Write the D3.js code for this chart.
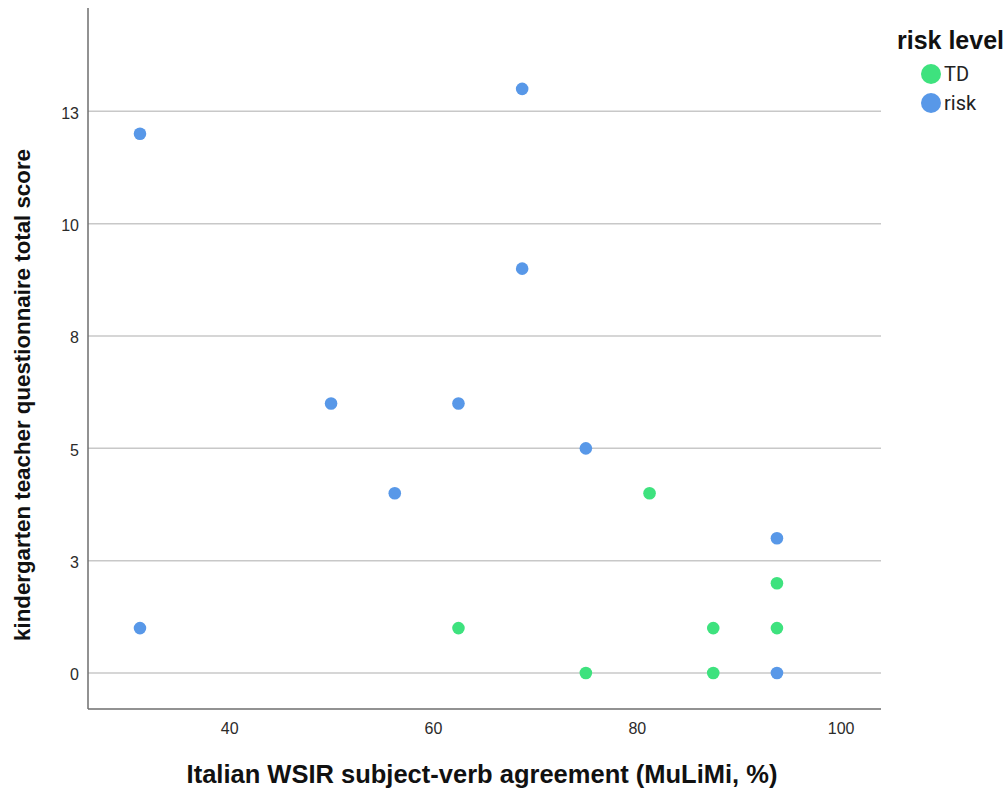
<!DOCTYPE html>
<html>
<head>
<meta charset="utf-8">
<script src="https://cdn.jsdelivr.net/npm/d3@7"></script>
<style>
  body { margin: 0; background: #fff; }
  svg { display: block; font-family: "Liberation Sans", Arial, sans-serif; }
</style>
</head>
<body>
<svg id="chart" width="1008" height="791"></svg>
<script>
// Scatter of teacher questionnaire score vs. subject-verb agreement, by risk level
const groups = ["TD", "risk"];
const groupColors = ["#3ee27e", "#5898e8"];

const tdX = [81.25, 93.75, 93.75, 87.5, 62.5, 75, 87.5];
const tdY = [4, 2, 1, 1, 1, 0, 0];

const riskX = [31.25, 68.75, 68.75, 50, 62.5, 56.25, 75, 93.75, 31.25, 93.75];
const riskY = [12, 13, 9, 6, 6, 4, 5, 3, 1, 0];

const xTicks = [40, 60, 80, 100];
const yTicks = [0, 2.5, 5, 7.5, 10, 12.5];

const xTitle = "Italian WSIR subject-verb agreement (MuLiMi, %)";
const yTitle = "kindergarten teacher questionnaire total score";
const legendTitle = "risk level";

const svg = d3.select("#chart");
const plot = { left: 88, right: 881, top: 8, bottom: 709 };

const x = d3.scaleLinear().domain([26.15, 103.96]).range([plot.left, plot.right]);
const y = d3.scaleLinear().domain([-0.8, 14.8]).range([plot.bottom, plot.top]);

// horizontal gridlines
svg.append("g").selectAll("line").data(yTicks).join("line")
  .attr("x1", plot.left).attr("x2", plot.right)
  .attr("y1", d => y(d)).attr("y2", d => y(d))
  .attr("stroke", "#c8c8c8").attr("stroke-width", 1.5);

// axes
const xAxis = svg.append("g").attr("transform", `translate(0,${plot.bottom})`)
  .call(d3.axisBottom(x).tickValues(xTicks).tickSize(0).tickPadding(14).tickFormat(d3.format("d")));
const yAxis = svg.append("g").attr("transform", `translate(${plot.left},0)`)
  .call(d3.axisLeft(y).tickValues(yTicks).tickSize(0).tickPadding(9).tickFormat(d => d3.format(".0f")(Math.round(d))));
[xAxis, yAxis].forEach(g => {
  g.select(".domain").attr("stroke", "#6e6e6e").attr("stroke-width", 1.5);
  g.selectAll("text").attr("font-size", 16).attr("fill", "#2b2b2b")
    .attr("font-family", "\"Liberation Sans\", Arial, sans-serif");
});
yAxis.selectAll("text").attr("dy", "0.42em");
yAxis.select(".domain").attr("d", `M0,${plot.top}V${plot.bottom}`);
xAxis.select(".domain").attr("d", `M${plot.left},0H${plot.right}`);

// points
const series = [
  { name: groups[0], color: groupColors[0], xs: tdX, ys: tdY },
  { name: groups[1], color: groupColors[1], xs: riskX, ys: riskY }
];
series.forEach(s => {
  svg.append("g").selectAll("circle").data(s.xs.map((v, i) => [v, s.ys[i]])).join("circle")
    .attr("cx", d => x(d[0])).attr("cy", d => y(d[1])).attr("r", 6.3)
    .attr("fill", s.color);
});

// axis titles
svg.append("text").attr("x", 482).attr("y", 783).attr("text-anchor", "middle")
  .attr("font-size", 25.5).attr("font-weight", "bold").attr("fill", "#111").text(xTitle);
svg.append("text").attr("transform", "translate(30,395) rotate(-90)").attr("text-anchor", "middle")
  .attr("font-size", 22.3).attr("font-weight", "bold").attr("fill", "#111").text(yTitle);

// legend
const lg = svg.append("g");
lg.append("text").attr("x", 897).attr("y", 49).attr("font-size", 25).attr("font-weight", "bold")
  .attr("fill", "#111").text(legendTitle);
groups.forEach((g, i) => {
  lg.append("circle").attr("cx", 931).attr("cy", 74 + i * 29).attr("r", 10).attr("fill", groupColors[i]);
  lg.append("text").attr("x", 944).attr("y", 81 + i * 29).attr("font-size", 20)
    .attr("font-family", "Roboto, sans-serif").attr("fill", "#222").text(g);
});
</script>
</body>
</html>
